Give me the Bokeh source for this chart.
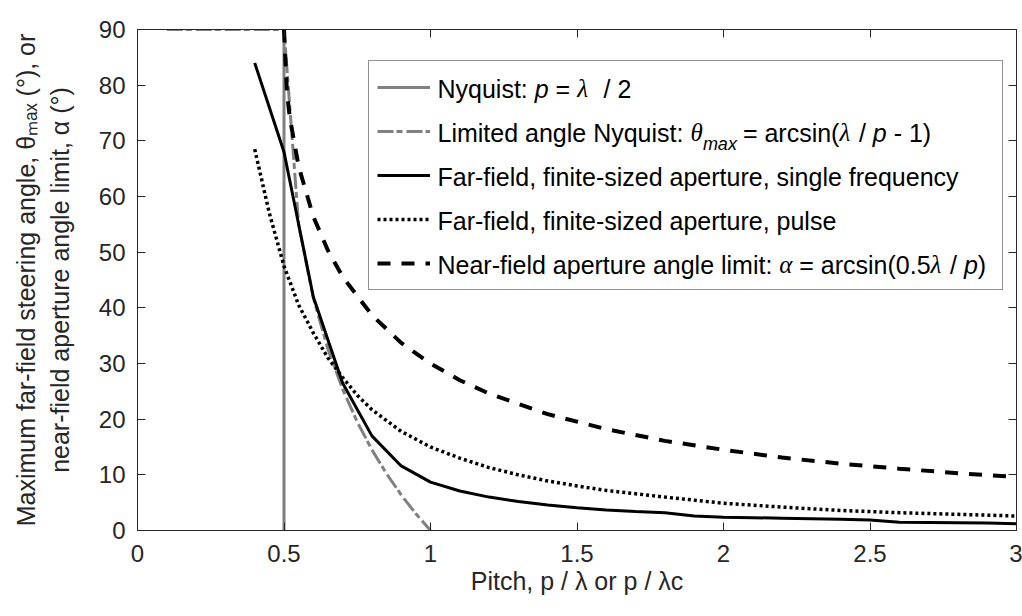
import math
from bokeh.plotting import figure
from bokeh.models import (Range1d, FixedTicker, NumeralTickFormatter, LinearAxis,
                          Label, Legend, LegendItem)
from bokeh.core.properties import value
from bokeh.embed import file_html
from bokeh.resources import INLINE

# ---------------- data ----------------
nyquist_x = [0.5, 0.5]
nyquist_y = [0, 90]

limited_x = [0.1, 0.5, 0.55, 0.6, 0.65, 0.7, 0.75, 0.8, 0.85, 0.9, 0.95, 1.0]
limited_y = [90, 90, 54.9, 41.8, 32.6, 25.4, 19.5, 14.5, 10.2, 6.4, 3.0, 0]

single_x = [0.4, 0.5, 0.6, 0.7, 0.8, 0.9, 1.0, 1.1, 1.2, 1.3, 1.4, 1.5, 1.6, 1.7,
            1.8, 1.9, 2.0, 2.1, 2.2, 2.3, 2.4, 2.5, 2.6, 2.7, 2.8, 2.9, 3.0]
single_y = [84, 68, 42, 26.5, 17, 11.6, 8.7, 7.1, 6.0, 5.2, 4.6, 4.1, 3.7, 3.4,
            3.2, 2.6, 2.4, 2.3, 2.2, 2.1, 2.0, 1.9, 1.5, 1.45, 1.4, 1.35, 1.2]

pulse_x = [0.4, 0.45, 0.5, 0.55, 0.6, 0.65, 0.7, 0.75, 0.8, 0.9, 1.0, 1.1, 1.2,
           1.3, 1.4, 1.5, 1.6, 1.8, 2.0, 2.2, 2.4, 2.6, 2.8, 3.0]
pulse_y = [68.5, 57, 47.5, 40.5, 35.5, 31, 27.5, 24.3, 21.7, 17.8, 15, 13, 11.3,
           10, 8.9, 8.0, 7.2, 6.0, 4.9, 4.2, 3.6, 3.2, 2.9, 2.6]

near_x = [0.5, 0.51, 0.52, 0.55, 0.6, 0.65, 0.7, 0.8, 0.9, 1.0, 1.1, 1.2, 1.4,
          1.6, 1.8, 2.0, 2.2, 2.4, 2.6, 2.8, 3.0]
near_y = [90, 78.7, 74.1, 65.4, 56.4, 50.3, 45.6, 38.7, 33.7, 30.0, 27.0, 24.6,
          20.9, 18.2, 16.1, 14.5, 13.1, 12.0, 11.1, 10.3, 9.6]

x_ticks = [0, 0.5, 1, 1.5, 2, 2.5, 3]
y_ticks = [0, 10, 20, 30, 40, 50, 60, 70, 80, 90]

x_title = "Pitch, p / λ or p / λc"
y_title = "Maximum far-field steering angle, θₘₐₓ (°), or\nnear-field aperture angle limit, α (°)"

# ---------------- layout ----------------
W, H = 1022, 616
L, R, T, B = 137, 1016, 29, 530
AX = "#262626"
GRAY = "#808080"
FONT = "Liberation Sans"
GFONT = "Liberation Serif"

p = figure(width=W, height=H, x_range=Range1d(0, 3), y_range=Range1d(0, 90),
           output_backend="svg", toolbar_location=None,
           min_border_left=L, min_border_right=W - R,
           min_border_top=T, min_border_bottom=H - B)
p.background_fill_color = "white"
p.border_fill_color = "white"
p.outline_line_color = AX
p.xgrid.visible = False
p.ygrid.visible = False

def style_axis(ax, ticks, show_labels, standoff):
    ax.ticker = FixedTicker(ticks=ticks)
    ax.axis_line_color = AX
    ax.major_tick_line_color = AX
    ax.major_tick_in = 8
    ax.major_tick_out = 0
    ax.minor_tick_line_color = None
    ax.major_label_text_color = AX
    ax.major_label_text_font = FONT
    ax.major_label_standoff = standoff
    if show_labels:
        ax.formatter = NumeralTickFormatter(format="0.[0]")
        ax.major_label_text_font_size = "24px"
    else:
        ax.major_label_overrides = {t: "" for t in ticks}
        ax.major_label_text_font_size = "1px"

style_axis(p.xaxis[0], x_ticks, True, 14)
style_axis(p.yaxis[0], y_ticks, True, 12)
for ax, title, standoff in [(p.xaxis[0], x_title, 2), (p.yaxis[0], y_title, 22)]:
    ax.axis_label = title
    ax.axis_label_text_font = FONT
    ax.axis_label_text_font_size = "25px"
    ax.axis_label_text_font_style = "normal"
    ax.axis_label_text_color = AX
    ax.axis_label_standoff = standoff
top_ax = LinearAxis()
right_ax = LinearAxis()
style_axis(top_ax, x_ticks, False, 0)
style_axis(right_ax, y_ticks, False, 0)
p.add_layout(top_ax, "above")
p.add_layout(right_ax, "right")

r_nyq = p.line(nyquist_x, nyquist_y, line_color=GRAY, line_width=3)
r_lim = p.line(limited_x, limited_y, line_color=GRAY, line_width=3, line_dash="16 3 6 4")
r_single = p.line(single_x, single_y, line_color="black", line_width=3)
r_pulse = p.line(pulse_x, pulse_y, line_color="black", line_width=3.5, line_dash="3 3")
r_near = p.line(near_x, near_y, line_color="black", line_width=4, line_dash="13 11")

# ---------------- rich text helpers (legend labels) ----------------
AR = {' ': 278, '!': 278, '(': 333, ')': 333, ',': 278, '-': 333, '.': 278, '/': 278,
      ':': 278, '=': 584, 'A': 667, 'B': 667, 'C': 722, 'D': 722, 'E': 667, 'F': 611,
      'G': 778, 'H': 722, 'I': 278, 'J': 500, 'K': 667, 'L': 556, 'M': 833, 'N': 722,
      'O': 778, 'P': 667, 'Q': 778, 'R': 722, 'S': 667, 'T': 611, 'U': 722, 'V': 667,
      'W': 944, 'X': 667, 'Y': 667, 'Z': 611, 'a': 556, 'b': 556, 'c': 500, 'd': 556,
      'e': 556, 'f': 278, 'g': 556, 'h': 556, 'i': 222, 'j': 222, 'k': 500, 'l': 222,
      'm': 833, 'n': 556, 'o': 556, 'p': 556, 'q': 556, 'r': 333, 's': 500, 't': 278,
      'u': 556, 'v': 500, 'w': 722, 'x': 500, 'y': 500, 'z': 500,
      'θ': 500, 'λ': 500, 'α': 520}
for d in "0123456789":
    AR[d] = 556

def tw(s, size):
    return sum(AR.get(c, 556) for c in s) / 1000.0 * size

MID = 0.35  # baseline-to-middle distance, fraction of font size

def layout_segments(segs, x0, y0, size):
    """x0, y0: start point on the baseline (canvas px, y down)."""
    out = []
    pos = 0.0
    for text, kind, shift in segs:
        s = size * (0.7 if shift else 1.0)
        w = tw(text, s)
        lead = len(text) - len(text.lstrip(' '))
        t = text.strip(' ')
        off = pos + tw(' ' * lead, s)
        if t:
            font = GFONT if kind == 'g' else FONT
            fstyle = 'normal' if kind == 'n' else 'italic'
            out.append((x0 + off, y0 - shift - MID * s, t, font, fstyle, int(round(s))))
        pos += w
    return out

SUB = -9

def add_labels(pcs, color):
    for x, y, t, font, fstyle, s in pcs:
        p.add_layout(Label(x=x - L, y=B - y, x_units="screen", y_units="screen",
                           text=t, text_font=font, text_font_style=fstyle,
                           text_font_size=f"{s}px", text_color=color, text_alpha=1.0,
                           text_align="left", text_baseline="middle"))

# legend geometry
LEG_PAD, LEG_GH, LEG_SP = 8, 36, 8
LEG_GW, LEG_STANDOFF, LEG_LW = 53, 8, 556
leg_left_px, leg_bottom_px = 368, 290

legend_rows = [
    [("Nyquist: ", 'n', 0), ("p", 'i', 0), (" = ", 'n', 0), ("λ", 'g', 0), ("  / 2", 'n', 0)],
    [("Limited angle Nyquist: ", 'n', 0), ("θ", 'g', 0), ("max", 'i', SUB),
     (" = arcsin(", 'n', 0), ("λ", 'g', 0), (" / ", 'n', 0), ("p", 'i', 0), (" - 1)", 'n', 0)],
    [("Far-field, finite-sized aperture, single frequency", 'n', 0)],
    [("Far-field, finite-sized aperture, pulse", 'n', 0)],
    [("Near-field aperture angle limit: ", 'n', 0), ("α", 'g', 0), (" = arcsin(0.5", 'n', 0),
     ("λ", 'g', 0), (" / ", 'n', 0), ("p", 'i', 0), (")", 'n', 0)],
]
LEG_FS = 25
leg_height = 2 * LEG_PAD + 5 * LEG_GH + 4 * LEG_SP
leg_top = leg_bottom_px - leg_height
text_x = leg_left_px + LEG_PAD + LEG_GW + LEG_STANDOFF
for i, row in enumerate(legend_rows):
    cy = leg_top + LEG_PAD + i * (LEG_GH + LEG_SP) + LEG_GH / 2.0
    add_labels(layout_segments(row, text_x, cy + MID * LEG_FS, LEG_FS), "black")

# legend box + line samples (added last, transparent so the texts show)
legend = Legend(items=[LegendItem(label=value(" "), renderers=[r]) for r in
                       [r_nyq, r_lim, r_single, r_pulse, r_near]],
                location=(leg_left_px - L, B - leg_bottom_px), margin=0,
                padding=LEG_PAD, spacing=LEG_SP, glyph_width=LEG_GW, glyph_height=LEG_GH,
                label_height=LEG_GH, label_width=LEG_LW, label_standoff=LEG_STANDOFF,
                label_text_font_size="25px", border_line_color=AX, border_line_width=1,
                background_fill_alpha=0.0)
p.add_layout(legend)

open("out.html", "w", encoding="utf-8").write(file_html(p, INLINE))
